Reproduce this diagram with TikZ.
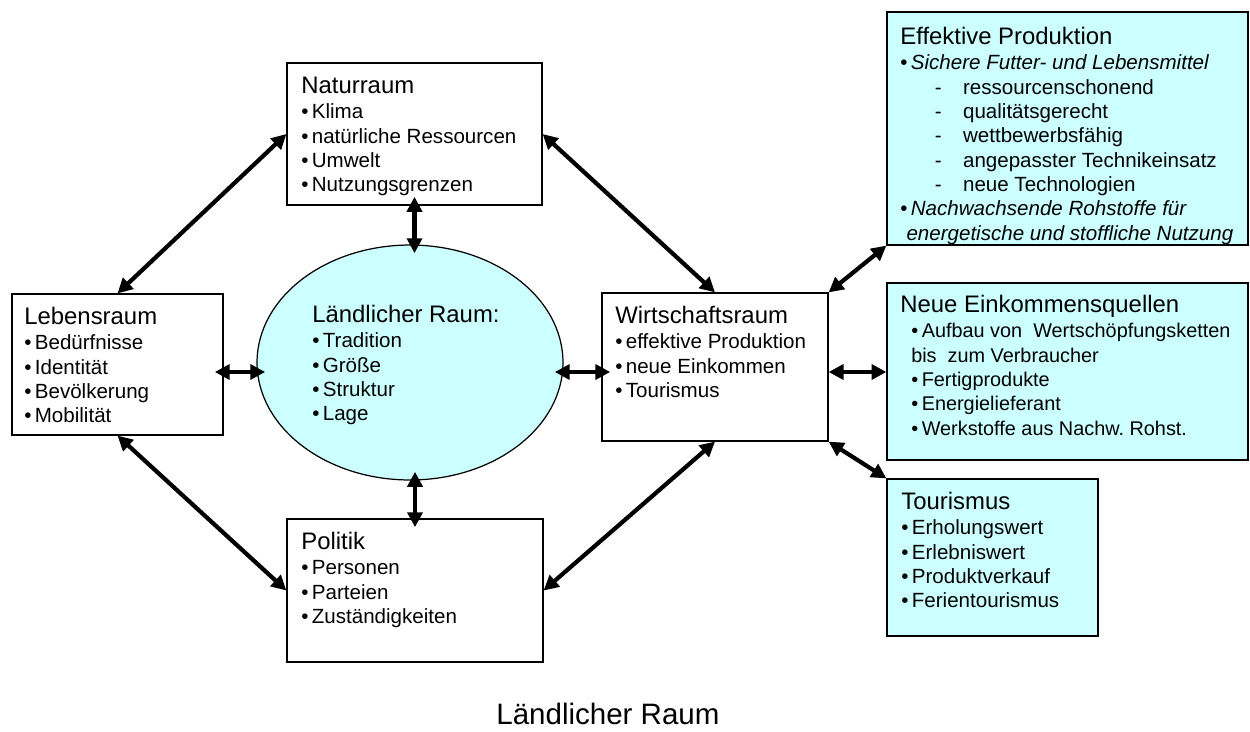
\documentclass[tikz,border=0pt]{standalone}
\usepackage{fontspec}
\setmainfont{Liberation Sans}
\usetikzlibrary{shapes.geometric,arrows.meta}
\definecolor{hellcyan}{RGB}{204,255,255}
\frenchspacing
\newcommand{\blt}{\makebox[6pt][l]{•}}
\newcommand{\strich}{\hspace*{19.6pt}\makebox[16.1pt][l]{-}}
\newcommand{\hd}[1]{{\fontsize{13.6}{13.85}\selectfont\rule{0pt}{11pt}#1}}

\begin{document}
\begin{tikzpicture}[x=0.02cm,y=-0.02cm,
  box/.style={draw,line width=0.7pt,inner sep=0pt},
  zbox/.style={box,fill=hellcyan},
  txt/.style={anchor=north west,inner sep=0pt,yshift=11pt,align=left,font=\fontsize{11.7}{13.85}\selectfont},
  pfeil/.style={line width=2.4pt,{Triangle[length=8.5pt,width=8.5pt]}-{Triangle[length=8.5pt,width=8.5pt]}},
  tief/.style={shorten <=-5pt,shorten >=-5pt}]
\useasboundingbox (0,0) rectangle (1250,731);

% Kaesten
\node[box,minimum width=5.1cm,minimum height=2.84cm] (natur) at (414.5,134) {};
\node[box,minimum width=4.22cm,minimum height=2.82cm] (leben) at (117.5,364.5) {};
\node[box,minimum width=4.52cm,minimum height=2.96cm] (wirt) at (715,367) {};
\node[box,minimum width=5.12cm,minimum height=2.86cm] (politik) at (415,590.5) {};
\node[zbox,ellipse,minimum width=6.12cm,minimum height=4.7cm] (raum) at (410,362.5) {};
\node[zbox,minimum width=7.22cm,minimum height=4.66cm] (effekt) at (1067.5,128.5) {};
\node[zbox,minimum width=7.22cm,minimum height=3.54cm] (neue) at (1067.5,371.5) {};
\node[zbox,minimum width=4.22cm,minimum height=3.14cm] (tour) at (992.5,557.5) {};
\coordinate (achse) at (0,372);

% Texte
\node[txt] (naturtxt) at (301,93) {\hd{Naturraum}\\[0.7pt]
  \blt Klima\\\blt natürliche Ressourcen\\\blt Umwelt\\\blt Nutzungsgrenzen};
\node[txt] (lebentxt) at (24,324) {\hd{Lebensraum}\\[0.7pt]
  \blt Bedürfnisse\\\blt Identität\\\blt Bevölkerung\\\blt Mobilität};
\node[txt] (raumtxt) at (312,322) {\hd{Ländlicher Raum:}\\[0.7pt]
  \blt Tradition\\\blt Größe\\\blt Struktur\\\blt Lage};
\node[txt] (wirttxt) at (615,323) {\hd{Wirtschaftsraum}\\[0.7pt]
  \blt effektive Produktion\\\blt neue Einkommen\\\blt Tourismus};
\node[txt] (politiktxt) at (301,549) {\hd{Politik}\\[0.7pt]
  \blt Personen\\\blt Parteien\\\blt Zuständigkeiten};
\node[txt] (effekttxt) at (900,44) {\hd{Effektive Produktion}\\[0.7pt]
  \blt\textit{Sichere Futter- und Lebensmittel}\\
  \strich ressourcenschonend\\
  \strich qualitätsgerecht\\
  \strich wettbewerbsfähig\\
  \strich angepasster Technikeinsatz\\
  \strich neue Technologien\\
  \blt\textit{Nachwachsende Rohstoffe für}\\
  \hspace*{3.5pt}\textit{energetische und stoffliche Nutzung}};
\node[txt,font=\fontsize{11.3}{13.85}\selectfont] (neuetxt) at (900,312) {\hd{Neue Einkommensquellen}\\[0.7pt]
  \hspace*{6.2pt}\blt Aufbau von\ \ Wertschöpfungsketten\\
  \hspace*{6.2pt}bis\ \ zum Verbraucher\\
  \hspace*{6.2pt}\blt Fertigprodukte\\
  \hspace*{6.2pt}\blt Energielieferant\\
  \hspace*{6.2pt}\blt Werkstoffe aus Nachw. Rohst.};
\node[txt] (tourtxt) at (901,509) {\hd{Tourismus}\\[0.7pt]
  \blt Erholungswert\\\blt Erlebniswert\\\blt Produktverkauf\\\blt Ferientourismus};
\node[anchor=base west,inner sep=0pt,font=\fontsize{16.8}{20}\selectfont] (titel) at (496,724) {Ländlicher Raum};

% Pfeile
\draw[pfeil,tief] (natur.south) -- (natur.south |- raum.north);
\draw[pfeil,tief] (politik.north |- raum.south) -- (politik.north);
\draw[pfeil,tief] (leben.east |- achse) -- (raum.west |- achse);
\draw[pfeil,tief] (raum.east |- achse) -- (wirt.west |- achse);
\draw[pfeil] (leben.north) -- (natur.west);
\draw[pfeil] (natur.east) -- (wirt.north);
\draw[pfeil] (leben.south) -- (politik.west);
\draw[pfeil] (politik.east) -- (wirt.south);
\draw[pfeil] (wirt.east |- achse) -- (neue.west |- achse);
\draw[pfeil] (wirt.north east) -- (effekt.south west);
\draw[pfeil] (wirt.south east) -- (tour.north west);
\end{tikzpicture}
\end{document}
